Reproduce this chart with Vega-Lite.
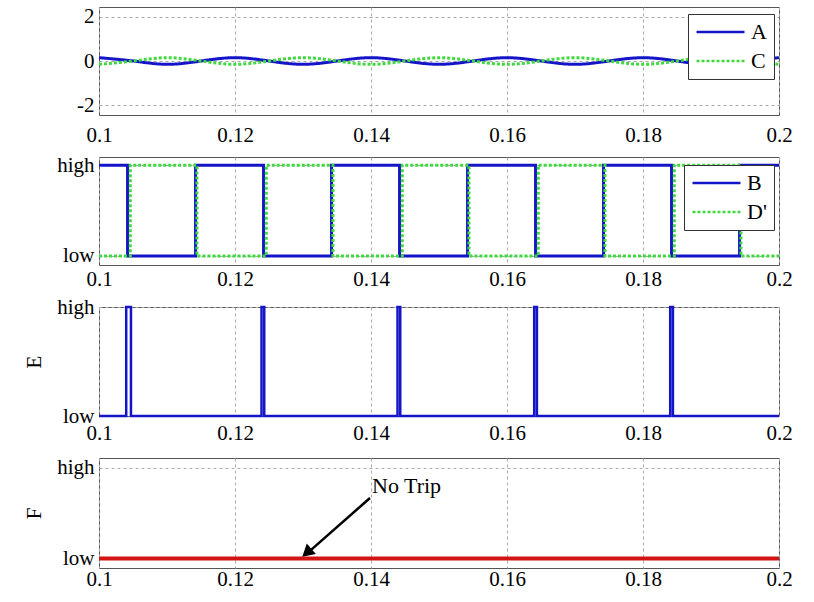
{
  "$schema": "https://vega.github.io/schema/vega-lite/v6.json",
  "padding": {"left": 23, "top": 5, "right": 5, "bottom": 5},
  "bounds": "flush",
  "spacing": 42,
  "background": "white",
  "config": {
    "font": "Liberation Serif",
    "view": {"stroke": "#555555", "strokeWidth": 1},
    "axis": {
      "domain": false,
      "ticks": false,
      "labelFont": "Liberation Serif",
      "labelFontSize": 21,
      "labelColor": "black",
      "titleFont": "Liberation Serif",
      "titleFontSize": 21,
      "titleFontWeight": "normal",
      "titleColor": "black",
      "gridColor": "#aaaaaa",
      "gridDash": [3, 3],
      "gridWidth": 1,
      "labelFlush": false,
      "labelOverlap": false,
      "labelBound": false
    },
    "legend": {
      "title": null,
      "orient": "none",
      "symbolType": "stroke",
      "symbolSize": 2300,
      "symbolStrokeWidth": 2.5,
      "clipHeight": 22,
      "labelFont": "Liberation Serif",
      "labelFontSize": 22,
      "labelColor": "black",
      "padding": 7,
      "rowPadding": 7,
      "labelOffset": 5,
      "strokeColor": "#333333",
      "fillColor": "white",
      "cornerRadius": 0
    }
  },
  "resolve": {
    "scale": {"x": "independent", "y": "independent", "color": "independent", "strokeDash": "independent"},
    "legend": {"color": "independent", "strokeDash": "independent"}
  },
  "vconcat": [
    {
      "width": 680,
      "height": 108,
      "data": {"values": [
        {"t": 0.100, "A": 0.15, "C": -0.15},
        {"t": 0.105, "A": 0.0, "C": 0.0},
        {"t": 0.110, "A": -0.15, "C": 0.15},
        {"t": 0.115, "A": 0.0, "C": 0.0},
        {"t": 0.120, "A": 0.15, "C": -0.15},
        {"t": 0.125, "A": 0.0, "C": 0.0},
        {"t": 0.130, "A": -0.15, "C": 0.15},
        {"t": 0.135, "A": 0.0, "C": 0.0},
        {"t": 0.140, "A": 0.15, "C": -0.15},
        {"t": 0.145, "A": 0.0, "C": 0.0},
        {"t": 0.150, "A": -0.15, "C": 0.15},
        {"t": 0.155, "A": 0.0, "C": 0.0},
        {"t": 0.160, "A": 0.15, "C": -0.15},
        {"t": 0.165, "A": 0.0, "C": 0.0},
        {"t": 0.170, "A": -0.15, "C": 0.15},
        {"t": 0.175, "A": 0.0, "C": 0.0},
        {"t": 0.180, "A": 0.15, "C": -0.15},
        {"t": 0.185, "A": 0.0, "C": 0.0},
        {"t": 0.190, "A": -0.15, "C": 0.15},
        {"t": 0.195, "A": 0.0, "C": 0.0},
        {"t": 0.200, "A": 0.15, "C": -0.15}
      ]},
      "transform": [{"fold": ["A", "C"], "as": ["series", "v"]}],
      "mark": {"type": "line", "strokeWidth": 3, "interpolate": "natural"},
      "encoding": {
        "x": {"field": "t", "type": "quantitative",
          "scale": {"domain": [0.1, 0.2], "nice": false, "zero": false},
          "axis": {"values": [0.1, 0.12, 0.14, 0.16, 0.18, 0.2], "format": "~g", "title": null, "labelPadding": 9, "grid": true, "labelFont": "Liberation Serif"}},
        "y": {"field": "v", "type": "quantitative",
          "scale": {"domain": [-2.45, 2.45], "nice": false, "zero": false},
          "axis": {"values": [-2, 0, 2], "labelExpr": "datum.value < 0 ? '-' + abs(datum.value) : '' + datum.value", "title": null, "labelPadding": 5, "grid": true, "labelFont": "Liberation Serif"}},
        "color": {"field": "series", "type": "nominal",
          "scale": {"domain": ["A", "C"], "range": ["#1414c8", "#3fd93f"]},
          "legend": {"legendX": 589, "legendY": 7}},
        "strokeDash": {"field": "series", "type": "nominal",
          "scale": {"domain": ["A", "C"], "range": [[1, 0], [3, 2]]},
          "legend": {"legendX": 589, "legendY": 7}}
      }
    },
    {
      "width": 680,
      "height": 108,
      "data": {"values": [
        {"series": "B", "t": 0.1, "v": 1},
        {"series": "B", "t": 0.1042, "v": 0},
        {"series": "B", "t": 0.1142, "v": 1},
        {"series": "B", "t": 0.1242, "v": 0},
        {"series": "B", "t": 0.1342, "v": 1},
        {"series": "B", "t": 0.1442, "v": 0},
        {"series": "B", "t": 0.1542, "v": 1},
        {"series": "B", "t": 0.1642, "v": 0},
        {"series": "B", "t": 0.1742, "v": 1},
        {"series": "B", "t": 0.1842, "v": 0},
        {"series": "B", "t": 0.1942, "v": 1},
        {"series": "B", "t": 0.2, "v": 1},
        {"series": "D'", "t": 0.1, "v": 0},
        {"series": "D'", "t": 0.1046, "v": 1},
        {"series": "D'", "t": 0.1144, "v": 0},
        {"series": "D'", "t": 0.1246, "v": 1},
        {"series": "D'", "t": 0.1344, "v": 0},
        {"series": "D'", "t": 0.1446, "v": 1},
        {"series": "D'", "t": 0.1544, "v": 0},
        {"series": "D'", "t": 0.1646, "v": 1},
        {"series": "D'", "t": 0.1744, "v": 0},
        {"series": "D'", "t": 0.1846, "v": 1},
        {"series": "D'", "t": 0.1944, "v": 0},
        {"series": "D'", "t": 0.2, "v": 0}
      ]},
      "mark": {"type": "line", "strokeWidth": 3, "interpolate": "step-after"},
      "encoding": {
        "x": {"field": "t", "type": "quantitative",
          "scale": {"domain": [0.1, 0.2], "nice": false, "zero": false},
          "axis": {"values": [0.1, 0.12, 0.14, 0.16, 0.18, 0.2], "format": "~g", "title": null, "labelPadding": 3, "grid": true, "labelFont": "Liberation Serif"}},
        "y": {"field": "v", "type": "quantitative",
          "scale": {"domain": [-0.1, 1.09], "nice": false, "zero": false},
          "axis": {"values": [0, 1], "labelExpr": "datum.value == 1 ? 'high' : 'low'", "title": null, "labelPadding": 5, "grid": true, "labelFont": "Liberation Serif"}},
        "color": {"field": "series", "type": "nominal",
          "scale": {"domain": ["B", "D'"], "range": ["#1414c8", "#3fd93f"]},
          "legend": {"legendX": 585, "legendY": 8}},
        "strokeDash": {"field": "series", "type": "nominal",
          "scale": {"domain": ["B", "D'"], "range": [[1, 0], [3, 2]]},
          "legend": {"legendX": 585, "legendY": 8}}
      }
    },
    {
      "width": 680,
      "height": 109,
      "data": {"values": [
        {"t": 0.1, "v": 0},
        {"t": 0.1040, "v": 1},
        {"t": 0.1047, "v": 0},
        {"t": 0.1239, "v": 1},
        {"t": 0.1243, "v": 0},
        {"t": 0.1439, "v": 1},
        {"t": 0.1443, "v": 0},
        {"t": 0.1640, "v": 1},
        {"t": 0.1644, "v": 0},
        {"t": 0.1840, "v": 1},
        {"t": 0.1844, "v": 0},
        {"t": 0.2, "v": 0}
      ]},
      "mark": {"type": "line", "strokeWidth": 2.5, "interpolate": "step-after", "color": "#1414c8"},
      "encoding": {
        "x": {"field": "t", "type": "quantitative",
          "scale": {"domain": [0.1, 0.2], "nice": false, "zero": false},
          "axis": {"values": [0.1, 0.12, 0.14, 0.16, 0.18, 0.2], "format": "~g", "title": null, "labelPadding": 6, "grid": true, "labelFont": "Liberation Serif"}},
        "y": {"field": "v", "type": "quantitative",
          "scale": {"domain": [0, 1], "nice": false, "zero": false},
          "axis": {"values": [0, 1], "labelExpr": "datum.value == 1 ? 'high' : 'low'", "title": "E", "titlePadding": 12, "labelPadding": 5, "grid": true, "labelFont": "Liberation Serif", "titleFont": "Liberation Serif"}}
      }
    },
    {
      "width": 680,
      "height": 110,
      "encoding": {
        "x": {"field": "t", "type": "quantitative",
          "scale": {"domain": [0.1, 0.2], "nice": false, "zero": false},
          "axis": {"values": [0.1, 0.12, 0.14, 0.16, 0.18, 0.2], "format": "~g", "title": null, "labelPadding": 0, "grid": true, "labelFont": "Liberation Serif"}},
        "y": {"field": "v", "type": "quantitative",
          "scale": {"domain": [-0.105, 1.11], "nice": false, "zero": false},
          "axis": {"values": [0, 1], "labelExpr": "datum.value == 1 ? 'high' : 'low'", "title": "F", "titlePadding": 12, "labelPadding": 5, "grid": true, "labelFont": "Liberation Serif", "titleFont": "Liberation Serif"}}
      },
      "layer": [
        {
          "data": {"values": [{"t": 0.1, "v": 0}, {"t": 0.2, "v": 0}]},
          "mark": {"type": "line", "strokeWidth": 4, "color": "#d41414"}
        },
        {
          "data": {"values": [{"t": 0.13985, "v": 0.668, "t2": 0.1311, "v2": 0.09}]},
          "mark": {"type": "rule", "strokeWidth": 2.5, "color": "black"},
          "encoding": {
            "x2": {"field": "t2"},
            "y2": {"field": "v2"}
          }
        },
        {
          "data": {"values": [{"t": 0.13078, "v": 0.078}]},
          "mark": {"type": "point", "shape": "triangle", "filled": true, "color": "black", "opacity": 1, "size": 190, "angle": 229}
        },
        {
          "data": {"values": [{"t": 0.14015, "v": 0.723, "label": "No Trip"}]},
          "mark": {"type": "text", "align": "left", "baseline": "alphabetic", "font": "Liberation Serif", "fontSize": 22, "color": "black"},
          "encoding": {"text": {"field": "label"}}
        }
      ]
    }
  ]
}
